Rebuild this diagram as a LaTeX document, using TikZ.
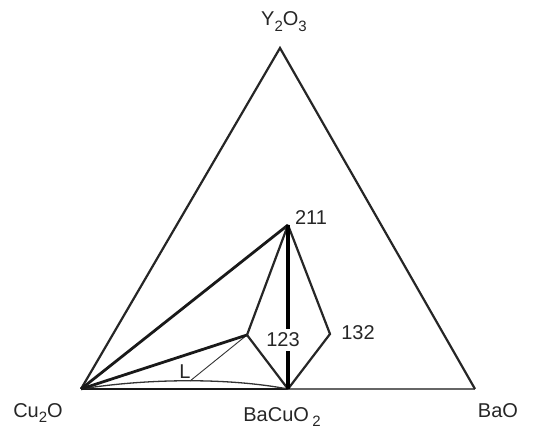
\documentclass[tikz,border=0pt]{standalone}
\usepackage{fontspec}
\setmainfont{Liberation Sans}
\newcommand\mysub[1]{\raisebox{-0.55ex}{\fontsize{15}{15}\selectfont #1}}
\begin{document}
\begin{tikzpicture}[x=1pt,y=-1pt,
  lbl/.style={font=\fontsize{20}{22}\selectfont, inner sep=0pt, text=black!85},
  edge/.style={draw=black!85, line width=2.2pt, line join=miter},
  heavy/.style={draw=black!90, line width=2.8pt},
  vheavy/.style={draw=black, line width=3.8pt},
  thin/.style={draw=black!80, line width=0.9pt},
  greyline/.style={draw=black!60, line width=2.2pt}]
\useasboundingbox (0,0) rectangle (539,430);
% points
\coordinate (Y) at (280,48);
\coordinate (C) at (81,389);
\coordinate (B) at (475,389);
\coordinate (BC) at (288,389);
\coordinate (P211) at (288,225);
\coordinate (P123) at (247,335);
\coordinate (P132) at (330,334);
\coordinate (Lp) at (190,381);
% labels
\node[lbl] (tY) at (284,22) {Y\mysub{2}O\mysub{3}};
\node[lbl] (tC) at (38,413) {Cu\mysub{2}O};
\node[lbl] (tBC) at (282,417) {BaCuO\,\raisebox{-0.4ex}{\fontsize{15}{15}\selectfont 2}};
\node[lbl] (tB) at (498,411) {BaO};
\node[lbl] (t211) at (311,218) {211};
\node[lbl] (t132) at (358,333) {132};
\node[lbl] (tL) at (185,372) {L};
\node[lbl, inner sep=4pt] (t123) at (283,340) {123};
% triangle
\draw[greyline] (BC) -- (B);
\draw[edge] (C) -- (Y) -- (B);
\draw[heavy] (C) -- (BC);
% L region
\draw[thin, line width=1.3pt] (C) .. controls (150,378) and (230,378) .. (BC);
\draw[thin] (P123) -- (Lp);
% tie lines
\draw[heavy] (C) -- (P211);
\draw[heavy] (C) -- (P123);
\draw[edge] (P123) -- (P211);
\draw[edge] (P123) -- (BC);
\draw[edge] (P211) -- (P132) -- (BC);
\draw[vheavy] (P211) -- (P211 |- t123.north);
\draw[vheavy] (BC |- t123.south) -- (BC);
\end{tikzpicture}
\end{document}
